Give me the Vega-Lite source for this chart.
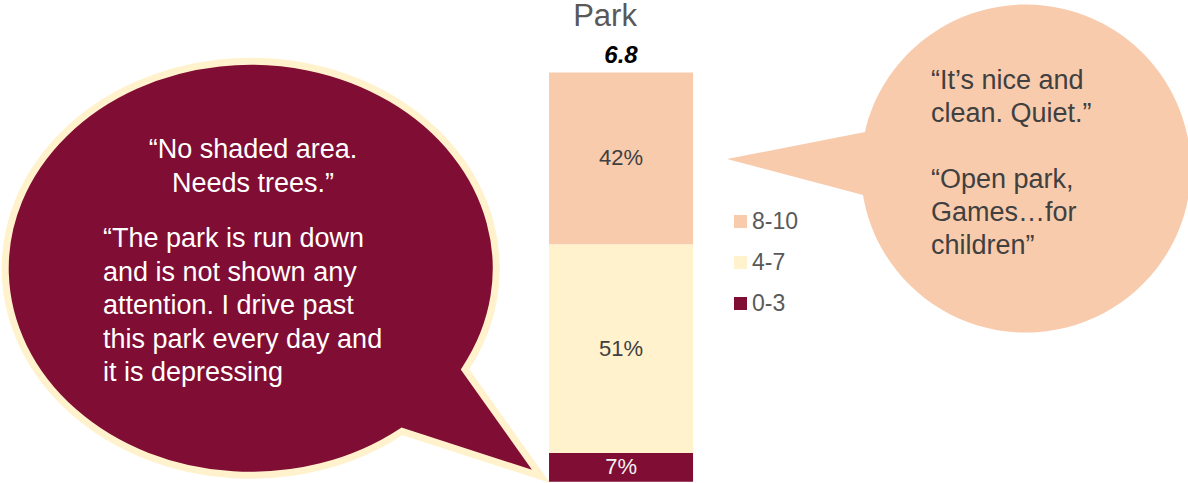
{
  "$schema": "https://vega.github.io/schema/vega-lite/v6.json",
  "width": 1188,
  "height": 483,
  "autosize": {"type": "fit", "contains": "padding"},
  "padding": 0,
  "background": "white",
  "config": {"view": {"stroke": null}, "font": "Liberation Sans"},
  "resolve": {"scale": {"x": "independent", "y": "independent"}},
  "layer": [
    {
      "data": {"values": [{"note": "quote"}]},
      "layer": [
        {
          "mark": {"type": "point", "shape": "M 212 103.5 L 288 210.5 L 149 165.5 A 245.5 207 0 1 1 212 103.5 Z", "size": 4, "filled": true, "fill": "#800D33", "stroke": "#FFF2CC", "strokeWidth": 7, "strokeJoin": "miter", "opacity": 1, "clip": true},
          "encoding": {
            "x": {"datum": 253, "type": "quantitative", "scale": {"domain": [0, 1188], "nice": false, "zero": false}, "axis": null},
            "y": {"datum": 264.5, "type": "quantitative", "scale": {"domain": [483, 0], "nice": false, "zero": false}, "axis": null}
          }
        },
        {
          "mark": {"type": "point", "shape": "M -162 -35 L -300 -8 L -164 28 A 165 164 0 1 0 -162 -35 Z", "size": 4, "filled": true, "fill": "#F8CBAD", "strokeWidth": 0, "opacity": 1, "clip": true},
          "encoding": {
            "x": {"datum": 1027, "type": "quantitative", "axis": null},
            "y": {"datum": 165, "type": "quantitative", "axis": null}
          }
        },
        {
          "mark": {"type": "text", "text": ["“No shaded area.", "Needs trees.”"], "align": "center", "baseline": "alphabetic", "fontSize": 27, "lineHeight": 34, "color": "#FFFFFF"},
          "encoding": {
            "x": {"datum": 253, "type": "quantitative", "axis": null},
            "y": {"datum": 156, "type": "quantitative", "axis": null}
          }
        },
        {
          "mark": {"type": "text", "text": ["“The park is run down", "and is not shown any", "attention. I drive past", "this park every day and", "it is depressing"], "align": "left", "baseline": "alphabetic", "fontSize": 27, "lineHeight": 33.5, "color": "#FFFFFF"},
          "encoding": {
            "x": {"datum": 103, "type": "quantitative", "axis": null},
            "y": {"datum": 246, "type": "quantitative", "axis": null}
          }
        },
        {
          "mark": {"type": "text", "text": ["“It’s nice and", "clean. Quiet.”"], "align": "left", "baseline": "alphabetic", "fontSize": 27, "lineHeight": 33, "color": "#404040"},
          "encoding": {
            "x": {"datum": 931, "type": "quantitative", "axis": null},
            "y": {"datum": 87, "type": "quantitative", "axis": null}
          }
        },
        {
          "mark": {"type": "text", "text": ["“Open park,", "Games…for", "children”"], "align": "left", "baseline": "alphabetic", "fontSize": 27, "lineHeight": 33, "color": "#404040"},
          "encoding": {
            "x": {"datum": 931, "type": "quantitative", "axis": null},
            "y": {"datum": 186, "type": "quantitative", "axis": null}
          }
        }
      ]
    },
    {
      "data": {"values": [
        {"place": "Park", "rating": "8-10", "share": 0.42},
        {"place": "Park", "rating": "4-7", "share": 0.51},
        {"place": "Park", "rating": "0-3", "share": 0.07}
      ]},
      "layer": [
        {
          "mark": {"type": "bar"},
          "encoding": {
            "x": {"field": "place", "type": "nominal", "axis": null, "scale": {"paddingInner": 0.7241, "paddingOuter": 1, "align": 0.5259}},
            "y": {"field": "share", "type": "quantitative", "stack": "zero", "axis": null, "scale": {"domain": [-0.0032, 1.17], "nice": false, "zero": false}},
            "color": {
              "field": "rating", "type": "nominal",
              "scale": {"domain": ["8-10", "4-7", "0-3"], "range": ["#F8CBAD", "#FFF2CC", "#800D33"]},
              "legend": {"orient": "none", "legendX": 729, "legendY": 207, "title": null, "symbolType": "square", "symbolSize": 169, "symbolStrokeWidth": 0, "labelFontSize": 23, "labelColor": "#595959", "labelFont": "Liberation Sans", "rowPadding": 17, "labelOffset": 0, "padding": 0}
            },
            "order": {"field": "rating", "type": "ordinal", "sort": "ascending"}
          }
        },
        {
          "mark": {"type": "text", "fontSize": 22, "baseline": "middle", "align": "center"},
          "encoding": {
            "x": {"field": "place", "type": "nominal", "axis": null},
            "y": {"field": "share", "type": "quantitative", "stack": "zero", "bandPosition": 0.5, "axis": null},
            "detail": {"field": "rating", "type": "nominal"},
            "order": {"field": "rating", "type": "ordinal", "sort": "ascending"},
            "text": {"field": "share", "type": "quantitative", "format": ".0%"},
            "color": {"condition": {"test": "datum.rating === '0-3'", "value": "#F2F2F2"}, "value": "#404040"}
          }
        },
        {
          "data": {"values": [{"place": "Park", "mean": 6.8}]},
          "mark": {"type": "text", "fontSize": 24, "fontWeight": "bold", "fontStyle": "italic", "baseline": "alphabetic", "align": "center", "dy": -10, "color": "#000000"},
          "encoding": {
            "x": {"field": "place", "type": "nominal", "axis": null},
            "y": {"datum": 1, "type": "quantitative", "axis": null},
            "text": {"field": "mean", "type": "quantitative", "format": ".1f"}
          }
        },
        {
          "data": {"values": [{"place": "Park"}]},
          "mark": {"type": "text", "fontSize": 31, "baseline": "alphabetic", "align": "center", "dy": -47, "dx": -16, "color": "#595959"},
          "encoding": {
            "x": {"field": "place", "type": "nominal", "axis": null},
            "y": {"datum": 1, "type": "quantitative", "axis": null},
            "text": {"field": "place", "type": "nominal"}
          }
        }
      ]
    }
  ]
}
